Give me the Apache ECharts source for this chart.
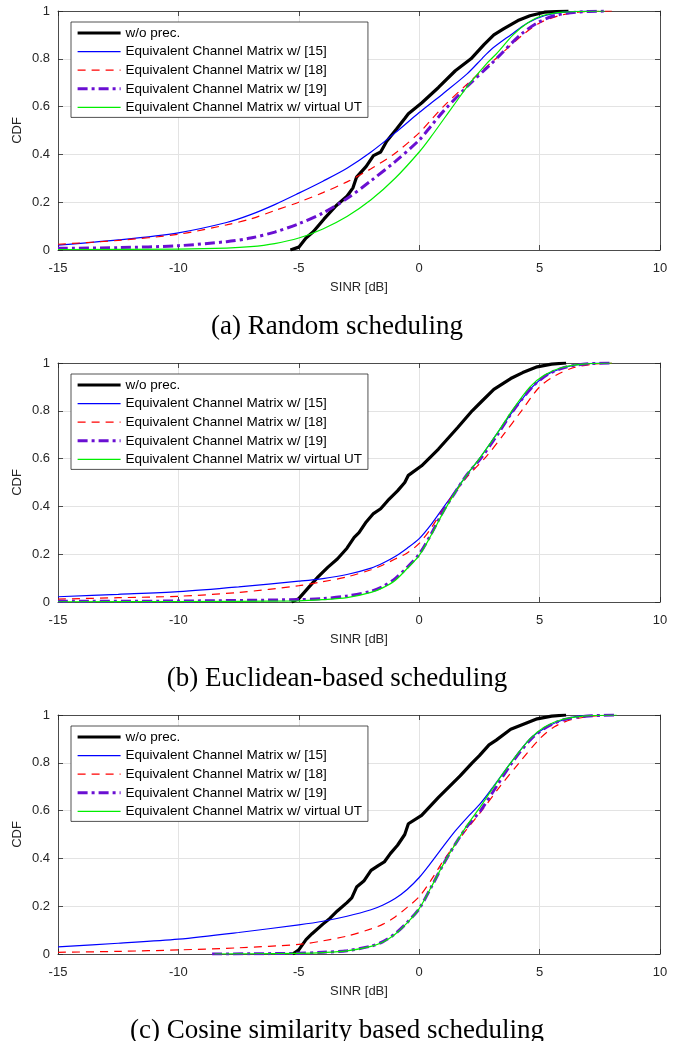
<!DOCTYPE html>
<html>
<head>
<meta charset="utf-8">
<script src="https://cdn.jsdelivr.net/npm/echarts@6/dist/echarts.min.js"></script>
<style>
  html, body { margin: 0; padding: 0; background: #fff; }
  #chart { width: 674px; height: 1041px; }
</style>
</head>
<body>
<div id="chart"></div>
<script>
// legend names, in plot order
const seriesNames = [
  "w/o prec.",
  "Equivalent Channel Matrix w/ [15]",
  "Equivalent Channel Matrix w/ [18]",
  "Equivalent Channel Matrix w/ [19]",
  "Equivalent Channel Matrix w/ virtual UT"
];
const captions = [
  "(a) Random scheduling",
  "(b) Euclidean-based scheduling",
  "(c) Cosine similarity based scheduling"
];
const sinrMin = -15, sinrMax = 10, sinrStep = 5;
const cdfMin = 0, cdfMax = 1, cdfStep = 0.2;

// (a) random scheduling: [SINR dB, CDF]
const randNoPrec = [[-5.35,0],[-5.0,0.012],[-4.7,0.05],[-4.4,0.076],[-3.95,0.13],[-3.45,0.185],[-3.0,0.225],[-2.75,0.26],[-2.6,0.305],[-2.2,0.35],[-1.9,0.395],[-1.6,0.41],[-1.35,0.455],[-0.95,0.505],[-0.6,0.55],[-0.45,0.57],[0.1,0.615],[0.8,0.68],[1.5,0.75],[2.15,0.8],[2.7,0.86],[3.1,0.9],[3.5,0.925],[4.1,0.96],[4.6,0.98],[5.2,0.995],[6.2,1]];
const rand15 = [[-15,0.02],[-12.5,0.042],[-10,0.072],[-8,0.115],[-7,0.148],[-6,0.19],[-5,0.238],[-4,0.288],[-3,0.342],[-2,0.41],[-1,0.49],[0,0.575],[0.5,0.615],[1,0.655],[2,0.738],[2.6,0.8],[3,0.84],[3.8,0.9],[4.5,0.95],[5.2,0.98],[6,0.995],[7,1]];
const rand18 = [[-15,0.024],[-12.5,0.04],[-10,0.066],[-8,0.105],[-7,0.13],[-6,0.165],[-5,0.2],[-4,0.24],[-3,0.285],[-2,0.34],[-1,0.405],[0,0.49],[0.5,0.545],[1,0.6],[2,0.695],[3,0.785],[3.4,0.82],[4.3,0.9],[5,0.95],[5.8,0.98],[6.6,0.995],[8,1]];
const rand19 = [[-15,0.007],[-12.5,0.01],[-10,0.018],[-8,0.035],[-7,0.05],[-6,0.075],[-5,0.11],[-4,0.155],[-3,0.215],[-2,0.29],[-1,0.37],[0,0.46],[0.5,0.52],[1,0.58],[2,0.685],[3,0.78],[3.3,0.81],[4.2,0.9],[4.9,0.95],[5.6,0.98],[6.5,0.995],[7.8,1]];
const randVirtual = [[-15,0.002],[-10,0.004],[-8,0.008],[-7,0.014],[-6,0.027],[-5,0.05],[-4,0.088],[-3,0.14],[-2,0.21],[-1,0.3],[0,0.41],[0.5,0.475],[1,0.545],[1.5,0.615],[2,0.685],[2.8,0.78],[3.2,0.82],[3.9,0.9],[4.5,0.95],[5.1,0.98],[6,0.995],[7.7,1]];

// (b) Euclidean-based scheduling
const euclNoPrec = [[-5.3,0],[-5.0,0.014],[-4.6,0.06],[-4.2,0.105],[-3.8,0.145],[-3.4,0.18],[-3.0,0.225],[-2.7,0.27],[-2.5,0.29],[-2.2,0.335],[-1.9,0.37],[-1.6,0.39],[-1.3,0.425],[-0.9,0.465],[-0.6,0.5],[-0.45,0.53],[0.1,0.57],[0.8,0.64],[1.6,0.73],[2.2,0.8],[2.6,0.84],[3.1,0.89],[3.8,0.935],[4.3,0.96],[4.9,0.984],[5.5,0.995],[6.1,1]];
const eucl15 = [[-15,0.022],[-12.5,0.032],[-10,0.043],[-7.5,0.063],[-5,0.087],[-4,0.098],[-3,0.115],[-2,0.142],[-1.5,0.163],[-1,0.19],[-0.5,0.225],[0,0.265],[0.5,0.325],[1,0.395],[1.5,0.465],[2,0.535],[2.5,0.6],[3.2,0.7],[3.9,0.8],[4.7,0.9],[5.3,0.95],[6,0.98],[6.7,0.995],[7.5,1]];
const eucl18 = [[-15,0.012],[-12.5,0.018],[-10,0.024],[-7.5,0.04],[-5,0.068],[-4,0.085],[-3,0.105],[-2,0.135],[-1.5,0.155],[-1,0.18],[-0.5,0.205],[0,0.245],[0.5,0.31],[1,0.39],[1.5,0.46],[2,0.525],[2.8,0.61],[3.5,0.7],[4.25,0.8],[5,0.9],[5.7,0.95],[6.4,0.98],[7.2,0.995],[8,1]];
const eucl19 = [[-15,0.003],[-10,0.004],[-5,0.01],[-4,0.014],[-3,0.025],[-2,0.045],[-1.5,0.065],[-1,0.098],[-0.5,0.145],[0,0.2],[0.5,0.285],[1,0.38],[1.5,0.46],[2,0.535],[2.55,0.6],[3.25,0.7],[3.9,0.8],[4.7,0.9],[5.3,0.95],[6,0.98],[6.8,0.995],[8,1]];
const euclVirtual = [[-15,0.001],[-10,0.002],[-5,0.005],[-4,0.01],[-3,0.018],[-2,0.04],[-1.5,0.06],[-1,0.09],[-0.5,0.14],[0,0.195],[0.5,0.28],[1,0.375],[1.5,0.46],[2,0.535],[2.5,0.6],[3.2,0.7],[3.85,0.8],[4.6,0.9],[5.2,0.95],[5.9,0.98],[6.8,0.995],[8,1]];

// (c) cosine similarity based scheduling
const cosNoPrec = [[-5.25,0],[-5.0,0.017],[-4.7,0.06],[-4.45,0.085],[-4.0,0.125],[-3.7,0.15],[-3.4,0.18],[-3.0,0.215],[-2.8,0.235],[-2.6,0.28],[-2.3,0.305],[-2.0,0.35],[-1.7,0.37],[-1.45,0.385],[-1.2,0.42],[-0.9,0.455],[-0.6,0.5],[-0.45,0.545],[0.1,0.58],[0.8,0.655],[1.7,0.745],[2.2,0.8],[2.5,0.83],[2.9,0.875],[3.2,0.895],[3.8,0.94],[4.3,0.96],[4.9,0.984],[5.5,0.995],[6.1,1]];
const cos15 = [[-15,0.03],[-12.5,0.045],[-10,0.062],[-7.5,0.09],[-5,0.122],[-4,0.137],[-3,0.158],[-2,0.185],[-1.5,0.205],[-1,0.232],[-0.5,0.27],[0,0.32],[0.5,0.383],[1,0.45],[1.5,0.515],[2,0.572],[2.5,0.625],[3,0.69],[3.8,0.8],[4.6,0.9],[5.3,0.95],[6,0.98],[6.6,0.995],[7.2,1]];
const cos18 = [[-15,0.007],[-12.5,0.011],[-10,0.017],[-7.5,0.026],[-5,0.04],[-4,0.055],[-3,0.075],[-2,0.105],[-1.5,0.125],[-1,0.155],[-0.5,0.195],[0,0.24],[0.5,0.31],[1,0.39],[1.5,0.46],[2,0.525],[2.6,0.6],[3.35,0.7],[4.15,0.8],[5,0.9],[5.6,0.95],[6.3,0.98],[7.2,0.995],[8.3,1]];
const cos19 = [[-8.6,0],[-7,0.001],[-5,0.003],[-4,0.007],[-3,0.014],[-2,0.033],[-1.5,0.052],[-1,0.085],[-0.5,0.132],[0,0.19],[0.5,0.28],[1,0.375],[1.5,0.46],[2,0.535],[2.55,0.6],[3.2,0.7],[3.85,0.8],[4.65,0.9],[5.3,0.95],[6,0.98],[6.9,0.995],[8.2,1]];
const cosVirtual = [[-8.5,0],[-7,0.001],[-5,0.003],[-4,0.006],[-3,0.013],[-2,0.032],[-1.5,0.05],[-1,0.083],[-0.5,0.13],[0,0.19],[0.5,0.28],[1,0.375],[1.5,0.46],[2,0.54],[2.5,0.61],[3.1,0.7],[3.8,0.8],[4.6,0.9],[5.2,0.95],[5.9,0.98],[6.8,0.995],[8.2,1]];

const panels = [
  [randNoPrec, rand15, rand18, rand19, randVirtual],
  [euclNoPrec, eucl15, eucl18, eucl19, euclVirtual],
  [cosNoPrec, cos15, cos18, cos19, cosVirtual]
];

// line looks per series (same order as seriesNames)
const looks = [
  { color: "#000000", width: 3.2, type: "solid", smooth: false },
  { color: "#0000ff", width: 1.2, type: "solid", smooth: 0.3 },
  { color: "#ff0000", width: 1.2, type: [8, 6], smooth: 0.3 },
  { color: "#6a0fd2", width: 3, type: [10, 4, 3, 4], smooth: 0.3 },
  { color: "#00ee00", width: 1.2, type: "solid", smooth: 0.3 }
];

const gridTops = [11, 363, 715];
const plotH = 239;
const axisColor = "#262626";
const sans = "Liberation Sans";

let grid = [], xAxis = [], yAxis = [], series = [], legend = [], title = [];

for (let p = 0; p < panels.length; p++) {
  grid.push({ left: 58, width: 602, top: gridTops[p], height: plotH });
  // bottom & left: the real axes
  xAxis.push({
    type: "value", gridIndex: p, min: sinrMin, max: sinrMax, interval: sinrStep,
    name: "SINR [dB]", nameLocation: "middle", nameGap: 31,
    nameTextStyle: { color: axisColor, fontSize: 13, fontFamily: sans },
    axisLine: { show: true, onZero: false, lineStyle: { color: axisColor, width: 0.8 } },
    axisTick: { show: true, inside: true, length: 5, lineStyle: { color: axisColor, width: 0.8 } },
    axisLabel: { color: axisColor, fontSize: 13, fontFamily: sans, margin: 12 },
    splitLine: { show: true, lineStyle: { color: "#e3e3e3", width: 1 } }
  });
  yAxis.push({
    type: "value", gridIndex: p, min: cdfMin, max: cdfMax, interval: cdfStep,
    name: "CDF", nameLocation: "middle", nameGap: 34, nameMoveOverlap: false,
    nameTextStyle: { color: axisColor, fontSize: 13, fontFamily: sans },
    axisLine: { show: true, onZero: false, lineStyle: { color: axisColor, width: 0.8 } },
    axisTick: { show: true, inside: true, length: 5, lineStyle: { color: axisColor, width: 0.8 } },
    axisLabel: { color: axisColor, fontSize: 13, fontFamily: sans, margin: 8 },
    splitLine: { show: true, lineStyle: { color: "#e3e3e3", width: 1 } }
  });
  // top & right: box with inside ticks, no labels
  xAxis.push({
    type: "value", gridIndex: p, min: sinrMin, max: sinrMax, interval: sinrStep, position: "top",
    axisLine: { show: true, onZero: false, lineStyle: { color: axisColor, width: 0.8 } },
    axisTick: { show: true, inside: true, length: 5, lineStyle: { color: axisColor, width: 0.8 } },
    axisLabel: { show: false }, splitLine: { show: false }
  });
  yAxis.push({
    type: "value", gridIndex: p, min: cdfMin, max: cdfMax, interval: cdfStep, position: "right",
    axisLine: { show: true, onZero: false, lineStyle: { color: axisColor, width: 0.8 } },
    axisTick: { show: true, inside: true, length: 5, lineStyle: { color: axisColor, width: 0.8 } },
    axisLabel: { show: false }, splitLine: { show: false }
  });

  for (let s = 0; s < seriesNames.length; s++) {
    let lk = looks[s];
    series.push({
      name: seriesNames[s],
      type: "line",
      xAxisIndex: p * 2,
      yAxisIndex: p * 2,
      data: panels[p][s],
      symbol: "none",
      showSymbol: false,
      smooth: lk.smooth,
      clip: true,
      z: 2 + s,
      lineStyle: { color: lk.color, width: lk.width, type: lk.type, cap: "butt" },
      itemStyle: { color: lk.color },
      emphasis: { disabled: true },
      animation: false
    });
  }

  legend.push({
    show: true,
    orient: "vertical",
    left: 71,
    top: gridTops[p] + 11,
    data: seriesNames,
    selectedMode: false,
    backgroundColor: "#ffffff",
    borderColor: "#262626",
    borderWidth: 0.8,
    borderRadius: 0,
    padding: [4, 6, 3, 5],
    itemWidth: 43,
    itemHeight: 12,
    itemGap: 4.6,
    itemStyle: { opacity: 0 },
    lineStyle: { width: "inherit" },
    textStyle: { color: "#000", fontSize: 13.5, fontFamily: sans }
  });

  title.push({
    text: captions[p],
    left: "center",
    top: gridTops[p] + 297,
    textStyle: { color: "#000", fontSize: 27, fontWeight: "normal", fontFamily: "Liberation Serif" }
  });
}

let myChart = echarts.init(document.getElementById("chart"), null, { renderer: "canvas" });
let option = {
  backgroundColor: "#ffffff",
  animation: false,
  title: title,
  legend: legend,
  grid: grid,
  xAxis: xAxis,
  yAxis: yAxis,
  series: series
};
myChart.setOption(option);
</script>
</body>
</html>
